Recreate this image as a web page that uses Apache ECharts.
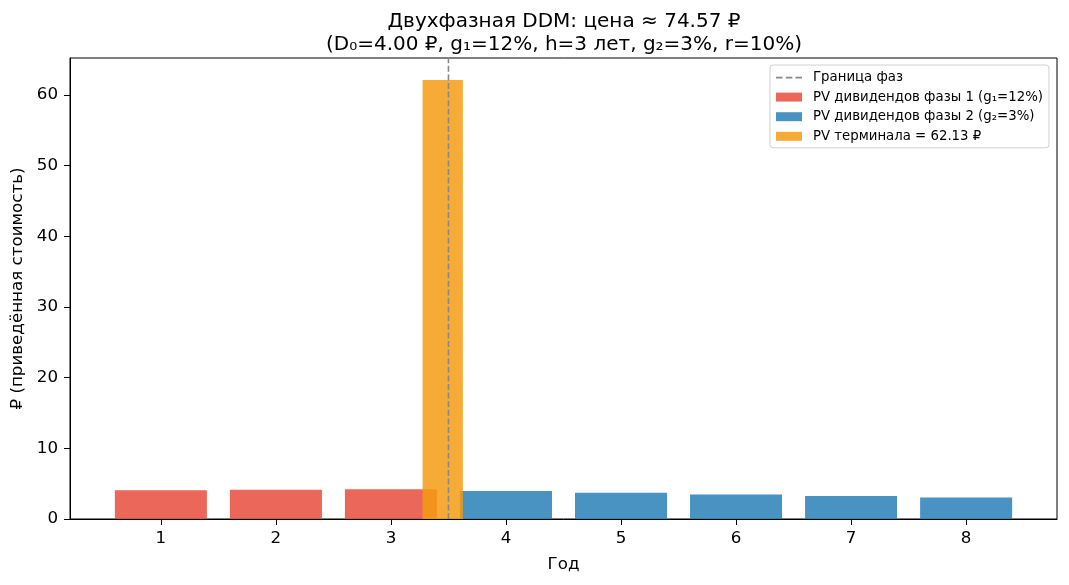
<!DOCTYPE html>
<html>
<head>
<meta charset="utf-8">
<title>Двухфазная DDM</title>
<script src="https://cdn.jsdelivr.net/npm/echarts@6/dist/echarts.min.js"></script>
<style>
  html, body { margin: 0; padding: 0; background: #fff; }
  #chart { width: 1069px; height: 585px; }
</style>
</head>
<body>
<div id="chart"></div>
<script>
// годы и приведённые дивиденды
const phase1Years = [1, 2, 3]
const phase1PV = [4.07, 4.15, 4.22]
const phase2Years = [4, 5, 6, 7, 8]
const phase2PV = [3.95, 3.70, 3.47, 3.25, 3.04]
const terminalX = [3.45]
const terminalPV = [62.13]
const phaseBoundary = 3.5
const xTicks = [1, 2, 3, 4, 5, 6, 7, 8]
const yTicks = [0, 10, 20, 30, 40, 50, 60]

const font = 'DejaVu Sans'
const xMin = 0.21
const xMax = 8.79
const yMax = 65.24

/* прямоугольник бара в координатах данных */
function barRenderer(width) {
  return function (params, api) {
    const x = api.value(0)
    const v = api.value(1)
    const p0 = api.coord([x - width / 2, v])
    const p1 = api.coord([x + width / 2, 0])
    return {
      type: 'rect',
      shape: { x: p0[0], y: p0[1], width: p1[0] - p0[0], height: p1[1] - p0[1] },
      style: { fill: api.visual('color') }
    }
  }
}

const dashIcon = 'path://M0,0h0.01v0.01h-0.01z M26,9h0.01v0.01h-0.01z ' +
  'M0,3.8h6.5v1.6h-6.5z M9.8,3.8h6.5v1.6h-6.5z M19.5,3.8h6.5v1.6h-6.5z'

const chart = echarts.init(document.getElementById('chart'), null, { renderer: 'canvas' })
chart.setOption({
  animation: false,
  textStyle: { fontFamily: font },
  title: {
    text: 'Двухфазная DDM: цена ≈ 74.57 ₽\n(D₀=4.00 ₽, g₁=12%, h=3 лет, g₂=3%, r=10%)',
    left: 559,
    top: 5,
    textAlign: 'center',
    textStyle: {
      fontFamily: font,
      fontWeight: 'normal',
      fontSize: 20,
      lineHeight: 23,
      color: '#000'
    }
  },
  grid: {
    left: 70,
    right: 12,
    top: 58,
    bottom: 66,
    show: true,
    borderColor: '#000',
    borderWidth: 1,
    backgroundColor: 'transparent'
  },
  legend: {
    orient: 'vertical',
    left: 770,
    top: 65,
    padding: [5, 6, 4, 6],
    itemGap: 4.6,
    itemWidth: 26,
    itemHeight: 9,
    backgroundColor: '#fff',
    borderColor: '#d0d0d0',
    borderWidth: 1,
    borderRadius: 3,
    textStyle: {
      fontFamily: font,
      fontSize: 13.3,
      lineHeight: 15,
      color: '#000',
      padding: [0, 0, 0, 6]
    },
    data: [
      { name: 'Граница фаз', icon: dashIcon },
      { name: 'PV дивидендов фазы 1 (g₁=12%)', icon: 'rect' },
      { name: 'PV дивидендов фазы 2 (g₂=3%)', icon: 'rect' },
      { name: 'PV терминала = 62.13 ₽', icon: 'rect' }
    ]
  },
  xAxis: {
    type: 'value',
    min: xMin,
    max: xMax,
    name: 'Год',
    nameLocation: 'middle',
    nameGap: 37,
    nameTextStyle: { fontFamily: font, fontSize: 16.7, color: '#000' },
    axisLine: { show: true, lineStyle: { color: '#000', width: 1 } },
    axisTick: { show: true, length: 6, lineStyle: { color: '#000' }, customValues: xTicks },
    axisLabel: { fontFamily: font, fontSize: 16.7, color: '#000', margin: 11, customValues: xTicks },
    splitLine: { show: false }
  },
  yAxis: {
    type: 'value',
    min: 0,
    max: yMax,
    name: '₽ (приведённая стоимость)',
    nameLocation: 'middle',
    nameGap: 40,
    nameTextStyle: { fontFamily: font, fontSize: 16.7, color: '#000' },
    axisLine: { show: true, lineStyle: { color: '#000', width: 1 } },
    axisTick: { show: true, length: 6, lineStyle: { color: '#000' }, customValues: yTicks },
    axisLabel: { fontFamily: font, fontSize: 16.7, color: '#000', margin: 12, customValues: yTicks },
    splitLine: { show: false }
  },
  series: [
    {
      name: 'PV дивидендов фазы 1 (g₁=12%)',
      type: 'custom',
      renderItem: barRenderer(0.8),
      itemStyle: { color: 'rgba(231, 76, 60, 0.85)' },
      encode: { x: 0, y: 1 },
      data: phase1Years.map((y, i) => [y, phase1PV[i]]),
      z: 2
    },
    {
      name: 'PV дивидендов фазы 2 (g₂=3%)',
      type: 'custom',
      renderItem: barRenderer(0.8),
      itemStyle: { color: 'rgba(41, 128, 185, 0.85)' },
      encode: { x: 0, y: 1 },
      data: phase2Years.map((y, i) => [y, phase2PV[i]]),
      z: 3
    },
    {
      name: 'PV терминала = 62.13 ₽',
      type: 'custom',
      renderItem: barRenderer(0.35),
      itemStyle: { color: 'rgba(243, 156, 18, 0.85)' },
      encode: { x: 0, y: 1 },
      data: terminalX.map((x, i) => [x, terminalPV[i]]),
      z: 4
    },
    {
      name: 'Граница фаз',
      type: 'line',
      symbol: 'none',
      itemStyle: { color: '#888' },
      lineStyle: { color: '#888', width: 1.6, type: [6, 2.6] },
      data: [[phaseBoundary, 0], [phaseBoundary, yMax]],
      z: 5
    }
  ]
})
</script>
</body>
</html>
